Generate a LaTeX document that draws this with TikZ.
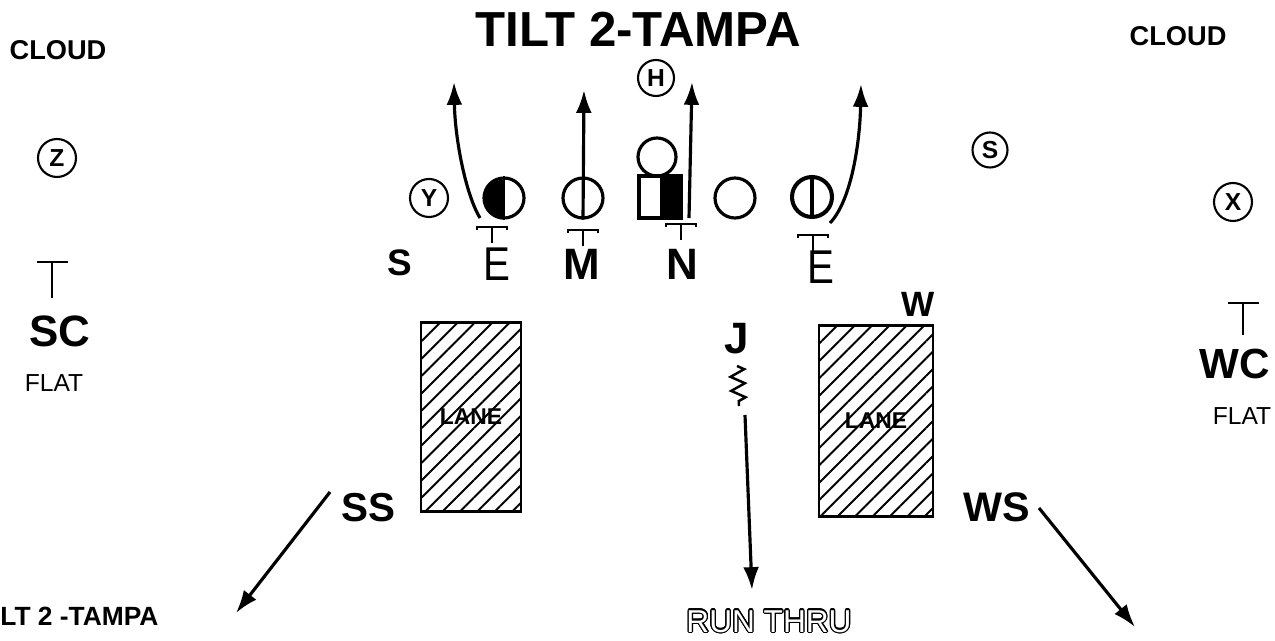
\documentclass[tikz,border=0pt]{standalone}
\usepackage{fontspec}
\setmainfont{Liberation Sans}
\usepackage{contour}
\usetikzlibrary{arrows.meta,positioning,patterns.meta,decorations.pathmorphing}
\contourlength{0.7pt}

\begin{document}
\begin{tikzpicture}[x=0.02cm, y=-0.02cm,
    lineman/.style={circle, draw, line width=1.8pt, minimum size=0.8cm, inner sep=0pt},
    player/.style={circle, draw, line width=1.2pt, minimum size=0.76cm, inner sep=0pt, font=\fontsize{14}{14}\selectfont\bfseries},
    route/.style={-{Latex[length=13pt,width=9pt]}, line width=1.8pt},
    big_tag/.style={font=\fontsize{25}{25}\selectfont\bfseries, inner sep=0pt},
    thin_tag/.style={font=\fontsize{27}{27}\selectfont, inner sep=0pt, xscale=0.85},
    note_text/.style={font=\fontsize{15.5}{15.5}\selectfont\bfseries, inner sep=0pt},
    flat_text/.style={font=\fontsize{14}{14}\selectfont, inner sep=0pt},
    lane/.style={draw, line width=1.4pt, inner sep=0pt, font=\fontsize{13}{13}\selectfont\bfseries,
        pattern={Lines[angle=45,distance=7pt,line width=1.1pt]}},
    bracket/.style={line width=1.3pt}
]
\useasboundingbox (0,0) rectangle (1275,641);

% --- titles and calls ---
\node[font=\fontsize{28}{28}\selectfont\bfseries, inner sep=0pt] (title) at (638,29) {TILT 2-TAMPA};
\node[note_text] (cloudL) at (58,50) {CLOUD};
\node[note_text] (cloudR) at (1178,36) {CLOUD};
\node[font=\fontsize{15}{15}\selectfont\bfseries, inner sep=0pt, anchor=west] (call) at (0,616) {LT 2 -TAMPA};
\node[font=\fontsize{18}{18}\selectfont, inner sep=0pt] (runthru) at (769,622) {\color{white}\contour{black}{RUN THRU}};

% --- offense ---
\node[player] (Z) at (57,158) {Z};
\node[player] (Y) at (429,198) {Y};
\node[player, minimum size=0.72cm] (H) at (656,78) {H};
\node[player, minimum size=0.7cm] (Sr) at (990,150) {S};
\node[player] (X) at (1233,202) {X};

\node[lineman] (E1) at (504,198) {};
\fill (E1.south) arc[start angle=90, end angle=270, radius=20] -- cycle;
\draw[line width=1pt] (E1.north) -- (E1.south);
\node[lineman] (M1) at (583,198) {};
\node[lineman, minimum size=0.76cm] (Q) at (657,157) {};
\node[draw, line width=2.5pt, minimum size=0.84cm, inner sep=0pt] (C) at (660,197) {};
\fill (C.north) rectangle (C.south east);
\node[lineman] (G) at (735,198) {};
\node[lineman, line width=2.3pt] (E2) at (812,197) {};
\draw[line width=2pt] (E2.north) -- (E2.south);

% --- rush lanes ---
\coordinate (E1go) at (480,218);
\coordinate (E1tip) at (454,82);
\coordinate (M1tip) at (584,90);
\coordinate (Ngo) at (689,218);
\coordinate (Ntip) at (692,82);
\coordinate (E2go) at (830,223);
\coordinate (E2tip) at (861,84);
\draw[route] (E1go) .. controls (466,195) and (455,140) .. (E1tip);
\draw[route] (M1.south) -- (M1tip);
\draw[route] (Ngo) -- (Ntip);
\draw[route] (E2go) .. controls (852,200) and (860,140) .. (E2tip);

% alignment marks
\foreach \x/\y in {492/227, 583/230, 681/224, 813/235} {
    \draw[bracket] (\x-15,\y+3) -- (\x-15,\y) -- (\x+15,\y) -- (\x+15,\y+3) (\x,\y) -- (\x,\y+16);
}
\draw[bracket] (37,262) -- (68,262) (52,262) -- (52,298);
\draw[bracket] (1228,303) -- (1259,303) (1243,303) -- (1243,335);

% --- defense ---
\node[big_tag, font=\fontsize{21}{21}\selectfont\bfseries] (S) at (400,263) {S};
\node[thin_tag] (EL) at (497,264) {E};
\node[big_tag] (M) at (582,264) {M};
\node[big_tag] (N) at (682,264) {N};
\node[thin_tag] (ER) at (821,267) {E};
\node[big_tag, font=\fontsize{20}{20}\selectfont\bfseries] (W) at (918,304) {W};
\node[big_tag] (J) at (737,339) {J};
\node[big_tag] (SC) at (60,331) {SC};
\node[flat_text] (flatL) at (54,383) {FLAT};
\node[big_tag, font=\fontsize{24}{24}\selectfont\bfseries] (WC) at (1235,364) {WC};
\node[flat_text] (flatR) at (1242,416) {FLAT};
\node[big_tag, font=\fontsize{23}{23}\selectfont\bfseries] (SS) at (368,508) {SS};
\node[big_tag, font=\fontsize{23.5}{23.5}\selectfont\bfseries] (WS) at (997,507) {WS};

\node[lane, minimum width=2cm, minimum height=3.78cm] (laneL) at (471,417) {LANE};
\node[lane, minimum width=2.28cm, minimum height=3.82cm] (laneR) at (876,421) {LANE};

% drops
\coordinate (Jz1) at (737,366);
\coordinate (Jz2) at (739,406);
\coordinate (Jgo) at (745,415);
\coordinate (Jtip) at (752,590);
\draw[line width=1.4pt, decorate, decoration={zigzag, segment length=8pt, amplitude=4pt}] (Jz1) -- (Jz2);
\draw[route] (Jgo) -- (Jtip);

\coordinate (SSgo) at (330,492);
\coordinate (SStip) at (236,613);
\coordinate (WSgo) at (1039,508);
\coordinate (WStip) at (1135,627);
\draw[route] (SSgo) -- (SStip);
\draw[route] (WSgo) -- (WStip);

\end{tikzpicture}
\end{document}
